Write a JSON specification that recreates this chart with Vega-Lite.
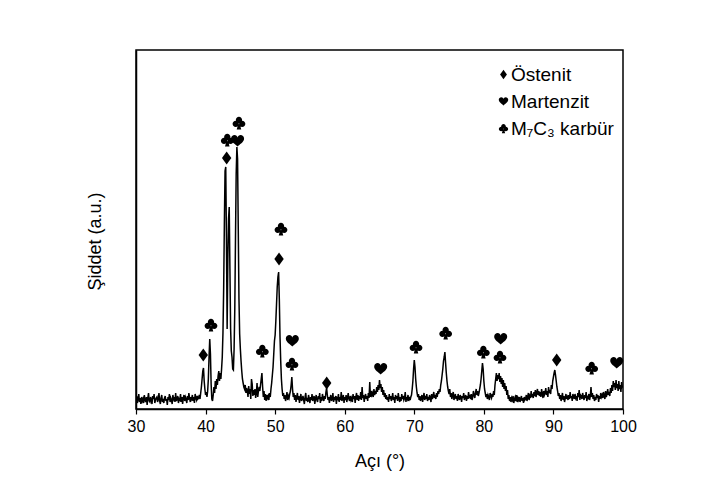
{
  "$schema": "https://vega.github.io/schema/vega-lite/v6.json",
  "width": 487,
  "height": 359,
  "autosize": {"type": "none"},
  "padding": {"left": 136, "top": 50, "right": 86, "bottom": 78},
  "background": "white",
  "config": {
    "view": {"stroke": "black", "strokeWidth": 1.5},
    "font": "Liberation Sans",
    "axis": {"domainColor": "black", "domainWidth": 1.5, "tickColor": "black", "tickWidth": 1.2, "labelColor": "black", "titleColor": "black", "grid": false, "labelFont": "Liberation Sans", "titleFont": "Liberation Sans", "titleFontWeight": "normal"}
  },
  "datasets": {
    "scan": [
{"a":30.0,"i":9},{"a":30.1,"i":13},{"a":30.2,"i":6},{"a":30.3,"i":10},{"a":30.4,"i":15},{"a":30.5,"i":7},{"a":30.6,"i":11},{"a":30.7,"i":5},{"a":30.8,"i":12},{"a":30.9,"i":8},
{"a":31.0,"i":10},{"a":31.1,"i":6},{"a":31.2,"i":14},{"a":31.3,"i":9},{"a":31.4,"i":7},{"a":31.5,"i":12},{"a":31.6,"i":4},{"a":31.7,"i":11},{"a":31.8,"i":16},{"a":31.9,"i":8},
{"a":32.0,"i":7},{"a":32.1,"i":12},{"a":32.2,"i":9},{"a":32.3,"i":5},{"a":32.4,"i":13},{"a":32.5,"i":10},{"a":32.6,"i":15},{"a":32.7,"i":6},{"a":32.8,"i":9},{"a":32.9,"i":11},
{"a":33.0,"i":12},{"a":33.1,"i":7},{"a":33.2,"i":10},{"a":33.3,"i":16},{"a":33.4,"i":8},{"a":33.5,"i":5},{"a":33.6,"i":11},{"a":33.7,"i":14},{"a":33.8,"i":7},{"a":33.9,"i":10},
{"a":34.0,"i":6},{"a":34.1,"i":11},{"a":34.2,"i":13},{"a":34.3,"i":8},{"a":34.4,"i":10},{"a":34.5,"i":4},{"a":34.6,"i":12},{"a":34.7,"i":9},{"a":34.8,"i":15},{"a":34.9,"i":7},
{"a":35.0,"i":11},{"a":35.1,"i":9},{"a":35.2,"i":5},{"a":35.3,"i":14},{"a":35.4,"i":10},{"a":35.5,"i":12},{"a":35.6,"i":7},{"a":35.7,"i":16},{"a":35.8,"i":8},{"a":35.9,"i":10},
{"a":36.0,"i":13},{"a":36.1,"i":6},{"a":36.2,"i":10},{"a":36.3,"i":9},{"a":36.4,"i":15},{"a":36.5,"i":7},{"a":36.6,"i":12},{"a":36.7,"i":5},{"a":36.8,"i":11},{"a":36.9,"i":14},
{"a":37.0,"i":8},{"a":37.1,"i":12},{"a":37.2,"i":10},{"a":37.3,"i":6},{"a":37.4,"i":13},{"a":37.5,"i":9},{"a":37.6,"i":16},{"a":37.7,"i":11},{"a":37.8,"i":7},{"a":37.9,"i":12},
{"a":38.0,"i":10},{"a":38.1,"i":14},{"a":38.2,"i":8},{"a":38.3,"i":12},{"a":38.4,"i":6},{"a":38.5,"i":15},{"a":38.6,"i":11},{"a":38.7,"i":9},{"a":38.8,"i":13},{"a":38.9,"i":10},
{"a":39.0,"i":11},{"a":39.1,"i":14},{"a":39.2,"i":10},{"a":39.3,"i":16},{"a":39.4,"i":22},{"a":39.5,"i":30},{"a":39.6,"i":38},{"a":39.7,"i":41},{"a":39.8,"i":28},{"a":39.9,"i":20},
{"a":40.0,"i":14},{"a":40.1,"i":17},{"a":40.2,"i":12},{"a":40.3,"i":18},{"a":40.4,"i":30},{"a":40.5,"i":52},{"a":40.6,"i":70},{"a":40.7,"i":55},{"a":40.8,"i":25},{"a":40.9,"i":10},
{"a":41.0,"i":8},{"a":41.1,"i":14},{"a":41.2,"i":22},{"a":41.3,"i":16},{"a":41.4,"i":28},{"a":41.5,"i":20},{"a":41.6,"i":30},{"a":41.7,"i":24},{"a":41.8,"i":33},{"a":41.9,"i":38},
{"a":42.0,"i":28},{"a":42.1,"i":36},{"a":42.2,"i":30},{"a":42.3,"i":40},{"a":42.4,"i":52},{"a":42.5,"i":76},{"a":42.6,"i":120},{"a":42.7,"i":185},{"a":42.8,"i":238},{"a":42.9,"i":242},
{"a":43.0,"i":170},{"a":43.1,"i":80},{"a":43.2,"i":150},{"a":43.3,"i":190},{"a":43.4,"i":202},{"a":43.5,"i":140},{"a":43.6,"i":80},{"a":43.7,"i":58},{"a":43.8,"i":52},{"a":43.9,"i":40},
{"a":44.0,"i":39},{"a":44.1,"i":60},{"a":44.2,"i":100},{"a":44.3,"i":170},{"a":44.4,"i":235},{"a":44.5,"i":262},{"a":44.6,"i":250},{"a":44.7,"i":180},{"a":44.8,"i":110},{"a":44.9,"i":75},
{"a":45.0,"i":60},{"a":45.1,"i":48},{"a":45.2,"i":38},{"a":45.3,"i":30},{"a":45.4,"i":26},{"a":45.5,"i":22},{"a":45.6,"i":20},{"a":45.7,"i":24},{"a":45.8,"i":16},{"a":45.9,"i":21},
{"a":46.0,"i":18},{"a":46.1,"i":12},{"a":46.2,"i":23},{"a":46.3,"i":15},{"a":46.4,"i":20},{"a":46.5,"i":10},{"a":46.6,"i":30},{"a":46.7,"i":25},{"a":46.8,"i":13},{"a":46.9,"i":19},
{"a":47.0,"i":14},{"a":47.1,"i":20},{"a":47.2,"i":11},{"a":47.3,"i":16},{"a":47.4,"i":26},{"a":47.5,"i":12},{"a":47.6,"i":18},{"a":47.7,"i":22},{"a":47.8,"i":18},{"a":47.9,"i":24},
{"a":48.0,"i":30},{"a":48.1,"i":36},{"a":48.2,"i":22},{"a":48.3,"i":12},{"a":48.4,"i":18},{"a":48.5,"i":9},{"a":48.6,"i":15},{"a":48.7,"i":8},{"a":48.8,"i":14},{"a":48.9,"i":11},
{"a":49.0,"i":13},{"a":49.1,"i":9},{"a":49.2,"i":16},{"a":49.3,"i":12},{"a":49.4,"i":20},{"a":49.5,"i":26},{"a":49.6,"i":34},{"a":49.7,"i":42},{"a":49.8,"i":55},{"a":49.9,"i":68},
{"a":50.0,"i":74},{"a":50.1,"i":88},{"a":50.2,"i":105},{"a":50.3,"i":122},{"a":50.4,"i":132},{"a":50.5,"i":137},{"a":50.6,"i":110},{"a":50.7,"i":72},{"a":50.8,"i":48},{"a":50.9,"i":30},
{"a":51.0,"i":20},{"a":51.1,"i":13},{"a":51.2,"i":16},{"a":51.3,"i":10},{"a":51.4,"i":14},{"a":51.5,"i":8},{"a":51.6,"i":12},{"a":51.7,"i":17},{"a":51.8,"i":9},{"a":51.9,"i":13},
{"a":52.0,"i":11},{"a":52.1,"i":15},{"a":52.2,"i":18},{"a":52.3,"i":24},{"a":52.4,"i":32},{"a":52.5,"i":20},{"a":52.6,"i":12},{"a":52.7,"i":16},{"a":52.8,"i":9},{"a":52.9,"i":14},
{"a":53.0,"i":7},{"a":53.1,"i":12},{"a":53.2,"i":16},{"a":53.3,"i":9},{"a":53.4,"i":13},{"a":53.5,"i":6},{"a":53.6,"i":11},{"a":53.7,"i":15},{"a":53.8,"i":8},{"a":53.9,"i":10},
{"a":54.0,"i":13},{"a":54.1,"i":9},{"a":54.2,"i":5},{"a":54.3,"i":12},{"a":54.4,"i":16},{"a":54.5,"i":8},{"a":54.6,"i":11},{"a":54.7,"i":7},{"a":54.8,"i":14},{"a":54.9,"i":10},
{"a":55.0,"i":6},{"a":55.1,"i":12},{"a":55.2,"i":9},{"a":55.3,"i":15},{"a":55.4,"i":8},{"a":55.5,"i":11},{"a":55.6,"i":13},{"a":55.7,"i":5},{"a":55.8,"i":10},{"a":55.9,"i":14},
{"a":56.0,"i":9},{"a":56.1,"i":7},{"a":56.2,"i":13},{"a":56.3,"i":10},{"a":56.4,"i":16},{"a":56.5,"i":6},{"a":56.6,"i":12},{"a":56.7,"i":8},{"a":56.8,"i":15},{"a":56.9,"i":11},
{"a":57.0,"i":8},{"a":57.1,"i":13},{"a":57.2,"i":10},{"a":57.3,"i":17},{"a":57.4,"i":21},{"a":57.5,"i":14},{"a":57.6,"i":9},{"a":57.7,"i":12},{"a":57.8,"i":6},{"a":57.9,"i":11},
{"a":58.0,"i":14},{"a":58.1,"i":8},{"a":58.2,"i":10},{"a":58.3,"i":16},{"a":58.4,"i":7},{"a":58.5,"i":12},{"a":58.6,"i":9},{"a":58.7,"i":13},{"a":58.8,"i":5},{"a":58.9,"i":11},
{"a":59.0,"i":10},{"a":59.1,"i":15},{"a":59.2,"i":7},{"a":59.3,"i":12},{"a":59.4,"i":9},{"a":59.5,"i":17},{"a":59.6,"i":8},{"a":59.7,"i":11},{"a":59.8,"i":14},{"a":59.9,"i":6},
{"a":60.0,"i":12},{"a":60.1,"i":9},{"a":60.2,"i":14},{"a":60.3,"i":7},{"a":60.4,"i":11},{"a":60.5,"i":16},{"a":60.6,"i":10},{"a":60.7,"i":8},{"a":60.8,"i":13},{"a":60.9,"i":9},
{"a":61.0,"i":11},{"a":61.1,"i":7},{"a":61.2,"i":15},{"a":61.3,"i":10},{"a":61.4,"i":13},{"a":61.5,"i":6},{"a":61.6,"i":12},{"a":61.7,"i":16},{"a":61.8,"i":9},{"a":61.9,"i":14},
{"a":62.0,"i":8},{"a":62.1,"i":13},{"a":62.2,"i":10},{"a":62.3,"i":17},{"a":62.4,"i":9},{"a":62.5,"i":22},{"a":62.6,"i":11},{"a":62.7,"i":14},{"a":62.8,"i":7},{"a":62.9,"i":12},
{"a":63.0,"i":15},{"a":63.1,"i":10},{"a":63.2,"i":13},{"a":63.3,"i":8},{"a":63.4,"i":16},{"a":63.5,"i":11},{"a":63.6,"i":27},{"a":63.7,"i":12},{"a":63.8,"i":18},{"a":63.9,"i":14},
{"a":64.0,"i":16},{"a":64.1,"i":12},{"a":64.2,"i":20},{"a":64.3,"i":14},{"a":64.4,"i":18},{"a":64.5,"i":15},{"a":64.6,"i":22},{"a":64.7,"i":17},{"a":64.8,"i":24},{"a":64.9,"i":19},
{"a":65.0,"i":29},{"a":65.1,"i":21},{"a":65.2,"i":25},{"a":65.3,"i":17},{"a":65.4,"i":22},{"a":65.5,"i":14},{"a":65.6,"i":19},{"a":65.7,"i":12},{"a":65.8,"i":16},{"a":65.9,"i":10},
{"a":66.0,"i":14},{"a":66.1,"i":9},{"a":66.2,"i":12},{"a":66.3,"i":7},{"a":66.4,"i":15},{"a":66.5,"i":10},{"a":66.6,"i":13},{"a":66.7,"i":8},{"a":66.8,"i":11},{"a":66.9,"i":16},
{"a":67.0,"i":9},{"a":67.1,"i":12},{"a":67.2,"i":6},{"a":67.3,"i":14},{"a":67.4,"i":10},{"a":67.5,"i":13},{"a":67.6,"i":8},{"a":67.7,"i":16},{"a":67.8,"i":11},{"a":67.9,"i":7},
{"a":68.0,"i":12},{"a":68.1,"i":8},{"a":68.2,"i":15},{"a":68.3,"i":10},{"a":68.4,"i":13},{"a":68.5,"i":9},{"a":68.6,"i":11},{"a":68.7,"i":17},{"a":68.8,"i":7},{"a":68.9,"i":12},
{"a":69.0,"i":10},{"a":69.1,"i":14},{"a":69.2,"i":8},{"a":69.3,"i":12},{"a":69.4,"i":9},{"a":69.5,"i":12},{"a":69.6,"i":14},{"a":69.7,"i":20},{"a":69.8,"i":28},{"a":69.9,"i":40},
{"a":70.0,"i":49},{"a":70.1,"i":42},{"a":70.2,"i":30},{"a":70.3,"i":22},{"a":70.4,"i":16},{"a":70.5,"i":12},{"a":70.6,"i":15},{"a":70.7,"i":9},{"a":70.8,"i":13},{"a":70.9,"i":8},
{"a":71.0,"i":11},{"a":71.1,"i":14},{"a":71.2,"i":7},{"a":71.3,"i":12},{"a":71.4,"i":16},{"a":71.5,"i":9},{"a":71.6,"i":13},{"a":71.7,"i":10},{"a":71.8,"i":15},{"a":71.9,"i":8},
{"a":72.0,"i":12},{"a":72.1,"i":9},{"a":72.2,"i":14},{"a":72.3,"i":11},{"a":72.4,"i":7},{"a":72.5,"i":15},{"a":72.6,"i":10},{"a":72.7,"i":13},{"a":72.8,"i":17},{"a":72.9,"i":11},
{"a":73.0,"i":14},{"a":73.1,"i":10},{"a":73.2,"i":16},{"a":73.3,"i":12},{"a":73.4,"i":18},{"a":73.5,"i":15},{"a":73.6,"i":20},{"a":73.7,"i":17},{"a":73.8,"i":24},{"a":73.9,"i":28},
{"a":74.0,"i":34},{"a":74.1,"i":40},{"a":74.2,"i":48},{"a":74.3,"i":52},{"a":74.4,"i":57},{"a":74.5,"i":46},{"a":74.6,"i":36},{"a":74.7,"i":28},{"a":74.8,"i":22},{"a":74.9,"i":18},
{"a":75.0,"i":15},{"a":75.1,"i":20},{"a":75.2,"i":12},{"a":75.3,"i":16},{"a":75.4,"i":10},{"a":75.5,"i":14},{"a":75.6,"i":17},{"a":75.7,"i":9},{"a":75.8,"i":12},{"a":75.9,"i":15},
{"a":76.0,"i":10},{"a":76.1,"i":13},{"a":76.2,"i":8},{"a":76.3,"i":15},{"a":76.4,"i":11},{"a":76.5,"i":9},{"a":76.6,"i":14},{"a":76.7,"i":12},{"a":76.8,"i":7},{"a":76.9,"i":13},
{"a":77.0,"i":11},{"a":77.1,"i":16},{"a":77.2,"i":9},{"a":77.3,"i":12},{"a":77.4,"i":14},{"a":77.5,"i":8},{"a":77.6,"i":13},{"a":77.7,"i":10},{"a":77.8,"i":17},{"a":77.9,"i":12},
{"a":78.0,"i":13},{"a":78.1,"i":10},{"a":78.2,"i":15},{"a":78.3,"i":9},{"a":78.4,"i":12},{"a":78.5,"i":18},{"a":78.6,"i":14},{"a":78.7,"i":11},{"a":78.8,"i":16},{"a":78.9,"i":20},
{"a":79.0,"i":14},{"a":79.1,"i":18},{"a":79.2,"i":13},{"a":79.3,"i":16},{"a":79.4,"i":20},{"a":79.5,"i":24},{"a":79.6,"i":30},{"a":79.7,"i":38},{"a":79.8,"i":46},{"a":79.9,"i":40},
{"a":80.0,"i":28},{"a":80.1,"i":20},{"a":80.2,"i":16},{"a":80.3,"i":12},{"a":80.4,"i":15},{"a":80.5,"i":10},{"a":80.6,"i":14},{"a":80.7,"i":12},{"a":80.8,"i":9},{"a":80.9,"i":16},
{"a":81.0,"i":13},{"a":81.1,"i":11},{"a":81.2,"i":15},{"a":81.3,"i":12},{"a":81.4,"i":18},{"a":81.5,"i":14},{"a":81.6,"i":24},{"a":81.7,"i":30},{"a":81.8,"i":36},{"a":81.9,"i":28},
{"a":82.0,"i":34},{"a":82.1,"i":30},{"a":82.2,"i":36},{"a":82.3,"i":27},{"a":82.4,"i":33},{"a":82.5,"i":25},{"a":82.6,"i":31},{"a":82.7,"i":22},{"a":82.8,"i":29},{"a":82.9,"i":20},
{"a":83.0,"i":26},{"a":83.1,"i":18},{"a":83.2,"i":23},{"a":83.3,"i":14},{"a":83.4,"i":19},{"a":83.5,"i":10},{"a":83.6,"i":14},{"a":83.7,"i":8},{"a":83.8,"i":12},{"a":83.9,"i":7},
{"a":84.0,"i":11},{"a":84.1,"i":9},{"a":84.2,"i":13},{"a":84.3,"i":6},{"a":84.4,"i":10},{"a":84.5,"i":12},{"a":84.6,"i":8},{"a":84.7,"i":14},{"a":84.8,"i":7},{"a":84.9,"i":11},
{"a":85.0,"i":9},{"a":85.1,"i":12},{"a":85.2,"i":7},{"a":85.3,"i":10},{"a":85.4,"i":13},{"a":85.5,"i":8},{"a":85.6,"i":11},{"a":85.7,"i":6},{"a":85.8,"i":12},{"a":85.9,"i":9},
{"a":86.0,"i":10},{"a":86.1,"i":14},{"a":86.2,"i":8},{"a":86.3,"i":12},{"a":86.4,"i":16},{"a":86.5,"i":9},{"a":86.6,"i":13},{"a":86.7,"i":11},{"a":86.8,"i":18},{"a":86.9,"i":12},
{"a":87.0,"i":15},{"a":87.1,"i":11},{"a":87.2,"i":17},{"a":87.3,"i":13},{"a":87.4,"i":19},{"a":87.5,"i":12},{"a":87.6,"i":16},{"a":87.7,"i":20},{"a":87.8,"i":14},{"a":87.9,"i":18},
{"a":88.0,"i":13},{"a":88.1,"i":17},{"a":88.2,"i":12},{"a":88.3,"i":20},{"a":88.4,"i":15},{"a":88.5,"i":11},{"a":88.6,"i":18},{"a":88.7,"i":14},{"a":88.8,"i":16},{"a":88.9,"i":21},
{"a":89.0,"i":14},{"a":89.1,"i":18},{"a":89.2,"i":12},{"a":89.3,"i":22},{"a":89.4,"i":16},{"a":89.5,"i":19},{"a":89.6,"i":15},{"a":89.7,"i":24},{"a":89.8,"i":20},{"a":89.9,"i":28},
{"a":90.0,"i":32},{"a":90.1,"i":36},{"a":90.2,"i":39},{"a":90.3,"i":34},{"a":90.4,"i":28},{"a":90.5,"i":22},{"a":90.6,"i":18},{"a":90.7,"i":13},{"a":90.8,"i":16},{"a":90.9,"i":10},
{"a":91.0,"i":14},{"a":91.1,"i":8},{"a":91.2,"i":12},{"a":91.3,"i":16},{"a":91.4,"i":9},{"a":91.5,"i":13},{"a":91.6,"i":7},{"a":91.7,"i":11},{"a":91.8,"i":15},{"a":91.9,"i":10},
{"a":92.0,"i":12},{"a":92.1,"i":9},{"a":92.2,"i":14},{"a":92.3,"i":10},{"a":92.4,"i":17},{"a":92.5,"i":11},{"a":92.6,"i":13},{"a":92.7,"i":8},{"a":92.8,"i":15},{"a":92.9,"i":12},
{"a":93.0,"i":10},{"a":93.1,"i":15},{"a":93.2,"i":11},{"a":93.3,"i":13},{"a":93.4,"i":8},{"a":93.5,"i":16},{"a":93.6,"i":12},{"a":93.7,"i":19},{"a":93.8,"i":9},{"a":93.9,"i":14},
{"a":94.0,"i":13},{"a":94.1,"i":10},{"a":94.2,"i":16},{"a":94.3,"i":12},{"a":94.4,"i":9},{"a":94.5,"i":14},{"a":94.6,"i":11},{"a":94.7,"i":17},{"a":94.8,"i":8},{"a":94.9,"i":12},
{"a":95.0,"i":11},{"a":95.1,"i":15},{"a":95.2,"i":9},{"a":95.3,"i":13},{"a":95.4,"i":22},{"a":95.5,"i":12},{"a":95.6,"i":16},{"a":95.7,"i":10},{"a":95.8,"i":14},{"a":95.9,"i":8},
{"a":96.0,"i":12},{"a":96.1,"i":9},{"a":96.2,"i":15},{"a":96.3,"i":11},{"a":96.4,"i":14},{"a":96.5,"i":7},{"a":96.6,"i":13},{"a":96.7,"i":10},{"a":96.8,"i":16},{"a":96.9,"i":12},
{"a":97.0,"i":14},{"a":97.1,"i":11},{"a":97.2,"i":17},{"a":97.3,"i":13},{"a":97.4,"i":10},{"a":97.5,"i":18},{"a":97.6,"i":12},{"a":97.7,"i":15},{"a":97.8,"i":20},{"a":97.9,"i":14},
{"a":98.0,"i":17},{"a":98.1,"i":13},{"a":98.2,"i":21},{"a":98.3,"i":16},{"a":98.4,"i":24},{"a":98.5,"i":18},{"a":98.6,"i":28},{"a":98.7,"i":22},{"a":98.8,"i":26},{"a":98.9,"i":19},
{"a":99.0,"i":29},{"a":99.1,"i":21},{"a":99.2,"i":25},{"a":99.3,"i":18},{"a":99.4,"i":28},{"a":99.5,"i":20},{"a":99.6,"i":24},{"a":99.7,"i":17},{"a":99.8,"i":27},{"a":99.9,"i":22},
{"a":100.0,"i":23}
    ],
    "marks": [
      {"a":39.67,"i":54,"phase":"Östenit"},
      {"a":43.03,"i":251,"phase":"Östenit"},
      {"a":50.56,"i":150,"phase":"Östenit"},
      {"a":57.41,"i":26,"phase":"Östenit"},
      {"a":90.47,"i":49,"phase":"Östenit"},
      {"a":44.6,"i":268,"phase":"Martenzit"},
      {"a":52.47,"i":68,"phase":"Martenzit"},
      {"a":65.17,"i":40,"phase":"Martenzit"},
      {"a":82.42,"i":70,"phase":"Martenzit"},
      {"a":99.1,"i":46,"phase":"Martenzit"},
      {"a":40.78,"i":84,"phase":"M₇C₃ karbür"},
      {"a":43.12,"i":269,"phase":"M₇C₃ karbür"},
      {"a":44.8,"i":286,"phase":"M₇C₃ karbür"},
      {"a":48.16,"i":58,"phase":"M₇C₃ karbür"},
      {"a":50.84,"i":180,"phase":"M₇C₃ karbür"},
      {"a":52.42,"i":45,"phase":"M₇C₃ karbür"},
      {"a":70.25,"i":62,"phase":"M₇C₃ karbür"},
      {"a":74.51,"i":76,"phase":"M₇C₃ karbür"},
      {"a":79.93,"i":57,"phase":"M₇C₃ karbür"},
      {"a":82.32,"i":52,"phase":"M₇C₃ karbür"},
      {"a":95.5,"i":41,"phase":"M₇C₃ karbür"}
    ]
  },
  "layer": [
    {
      "data": {"name": "scan"},
      "mark": {"type": "line", "color": "black", "strokeWidth": 1.5, "clip": true},
      "encoding": {
        "x": {"field": "a", "type": "quantitative", "scale": {"domain": [30, 100], "nice": false},
          "axis": {"title": "Açı (°)", "titleFontSize": 18, "titlePadding": 18, "labelFontSize": 16, "labelPadding": 4, "labelFlush": false, "labelOverlap": false,
            "values": [30,35,40,45,50,55,60,65,70,75,80,85,90,95,100],
            "labelExpr": "datum.value % 10 === 0 ? datum.label : ''",
            "tickSize": {"condition": {"test": "datum.value % 10 === 0", "value": 5}, "value": 3}}},
        "y": {"field": "i", "type": "quantitative", "scale": {"domain": [0, 359], "nice": false, "zero": false},
          "axis": {"title": "Şiddet (a.u.)", "titleFontSize": 18, "titlePadding": 32, "labels": false, "ticks": false, "titleY": 191}}
      }
    },
    {
      "data": {"name": "marks"},
      "mark": {"type": "point", "filled": true, "color": "black", "opacity": 1, "size": 170, "strokeWidth": 0},
      "encoding": {
        "x": {"field": "a", "type": "quantitative"},
        "y": {"field": "i", "type": "quantitative"},
        "shape": {"field": "phase", "type": "nominal",
          "scale": {"domain": ["Östenit", "Martenzit", "M₇C₃ karbür"],
            "range": [
              "M0,-1 L0.72,0 L0,1 L-0.72,0 Z",
              "M0,0.85 C-0.25,0.55 -1,0.15 -1,-0.35 C-1,-0.72 -0.72,-0.92 -0.47,-0.92 C-0.22,-0.92 -0.05,-0.75 0,-0.55 C0.05,-0.75 0.22,-0.92 0.47,-0.92 C0.72,-0.92 1,-0.72 1,-0.35 C1,0.15 0.25,0.55 0,0.85 Z",
              "M-0.48,-0.48 C-0.48,-0.745 -0.265,-0.96 0,-0.96 C0.265,-0.96 0.48,-0.745 0.48,-0.48 C0.48,-0.215 0.265,0 0,0 C-0.265,0 -0.48,-0.215 -0.48,-0.48 Z M-0.98,0.12 C-0.98,-0.145 -0.765,-0.36 -0.5,-0.36 C-0.235,-0.36 -0.02,-0.145 -0.02,0.12 C-0.02,0.385 -0.235,0.6 -0.5,0.6 C-0.765,0.6 -0.98,0.385 -0.98,0.12 Z M0.02,0.12 C0.02,-0.145 0.235,-0.36 0.5,-0.36 C0.765,-0.36 0.98,-0.145 0.98,0.12 C0.98,0.385 0.765,0.6 0.5,0.6 C0.235,0.6 0.02,0.385 0.02,0.12 Z M-0.12,0.2 L0.12,0.2 L0.35,0.98 L-0.35,0.98 Z"
            ]},
          "legend": {"title": null, "orient": "none", "legendX": 358, "legendY": 15, "labelFontSize": 19, "labelFont": "Liberation Sans", "labelColor": "black", "symbolSize": 90, "symbolFillColor": "black", "symbolStrokeColor": "black", "symbolStrokeWidth": 0, "rowPadding": 7, "labelOffset": -2, "labelLimit": 300}}
      }
    }
  ]
}
